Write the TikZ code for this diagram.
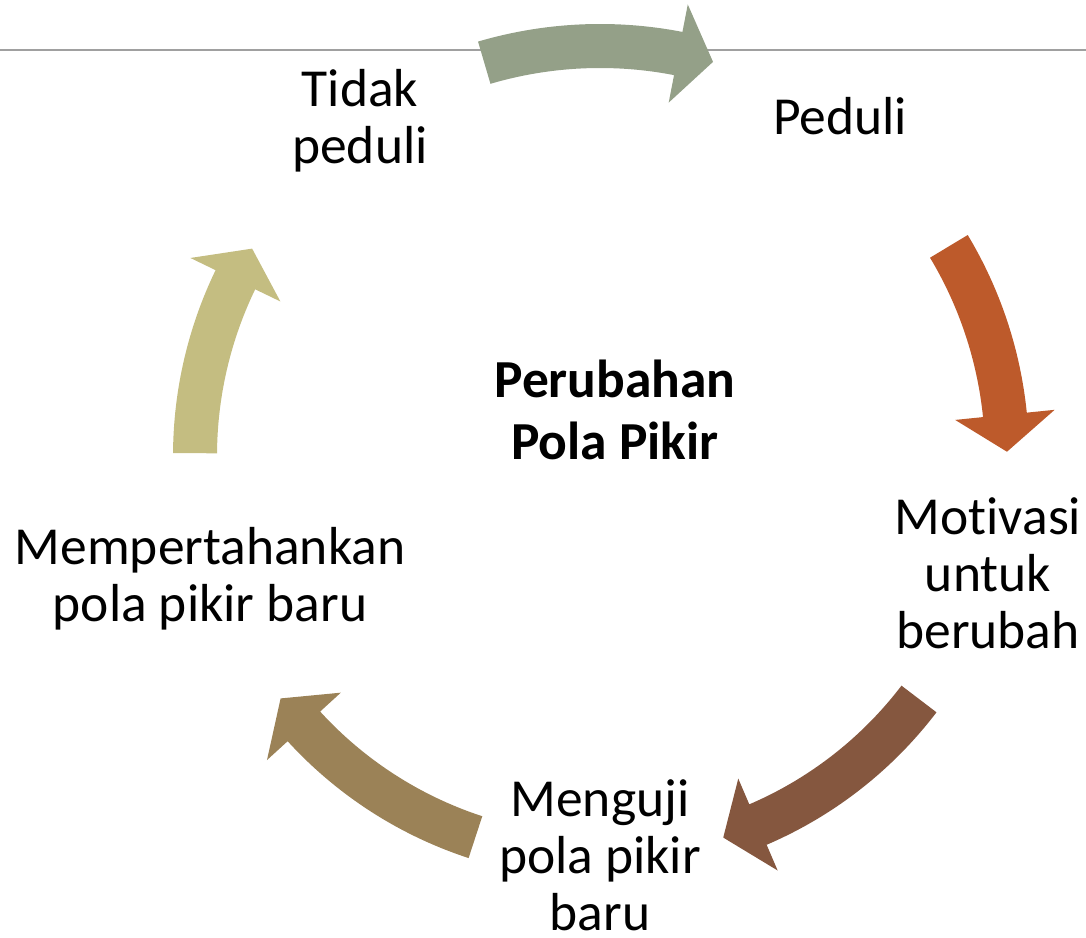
\documentclass[tikz,border=0pt]{standalone}
\usepackage{fontspec}
\setmainfont{Carlito}[Ligatures={NoCommon}]
\usetikzlibrary{calc}
\definecolor{cTop}{HTML}{94A088}
\definecolor{cOrange}{HTML}{BD5A2B}
\definecolor{cBrown}{HTML}{85573F}
\definecolor{cTan}{HTML}{9B8257}
\definecolor{cKhaki}{HTML}{C4BD81}
\definecolor{cLine}{HTML}{A0A0A0}
\tikzset{
  lbl/.style={align=center, anchor=base, inner sep=0pt, font=\fontsize{53.5}{57}\selectfont},
  ctr/.style={align=center, anchor=base, inner sep=0pt, font=\fontsize{53.5}{62}\selectfont\bfseries},
}
% #1 tail angle, #2 head base angle, #3 tip angle, #4 radius, #5 colour
\newcommand{\cyclearrow}[5]{%
  \fill[#5] ($(C)+(#1:#4pt+22pt)$) arc[start angle=#1, end angle=#2, radius=#4pt+22pt]
    -- ($(C)+(#2:#4pt+50pt)$) -- ($(C)+(#3:#4pt)$) -- ($(C)+(#2:#4pt-50pt)$)
    -- ($(C)+(#2:#4pt-22pt)$) arc[start angle=#2, end angle=#1, radius=#4pt-22pt] -- cycle;}
\begin{document}
\begin{tikzpicture}[x=1pt,y=1pt]
\useasboundingbox (0,0) rectangle (1086,937);
\coordinate (C) at (600,481);
\coordinate (L0) at (0,887);
\coordinate (L1) at (1086,887);
\draw[cLine, line width=2pt] (L0) -- (L1);
\cyclearrow{106.4}{79}{74}{410}{cTop}
\cyclearrow{31}{5.8}{0.6}{407}{cOrange}
\cyclearrow{-37.3}{-66.8}{-72.1}{401}{cBrown}
\cyclearrow{-108.1}{-137.6}{-142.8}{401}{cTan}
\cyclearrow{179.6}{154.2}{149.2}{405}{cKhaki}
\node[lbl] (n1) at (360,773) {Tidak\\peduli};
\node[lbl] (n2) at (840,802) {Peduli};
\node[lbl] (n3) at (988,288) {Motivasi\\untuk\\berubah};
\node[lbl] (n4) at (600,7) {Menguji\\pola pikir\\baru};
\node[lbl] (n5) at (210,315) {Mempertahankan\\pola pikir baru};
\node[ctr] (c) at (615,477) {Perubahan\\Pola Pikir};
\end{tikzpicture}
\end{document}
